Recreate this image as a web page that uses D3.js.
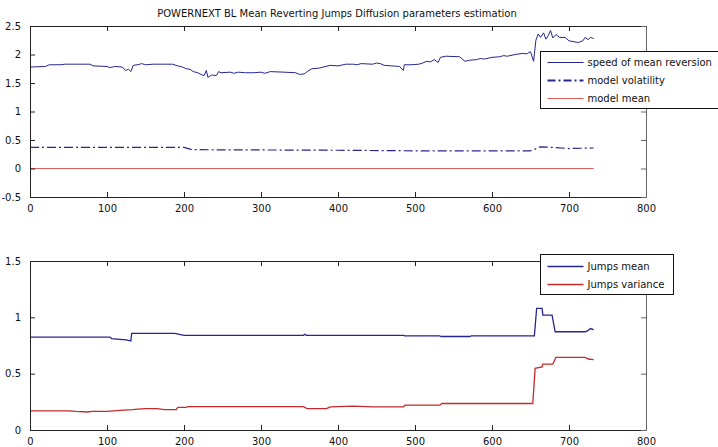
<!DOCTYPE html>
<html><head><meta charset="utf-8">
<script src="https://cdn.jsdelivr.net/npm/d3@7"></script>
<style>
body{margin:0;background:#fff;}
svg{display:block;font-family:"DejaVu Sans",sans-serif;}
</style></head>
<body><svg id="c" width="718" height="447"></svg>
<script>
const title = "POWERNEXT BL Mean Reverting Jumps Diffusion parameters estimation";
const xTicks = [0,100,200,300,400,500,600,700,800];
const yTicksTop = [-0.5,0,0.5,1,1.5,2,2.5];
const yTicksBottom = [0,0.5,1,1.5];
const yTickLabelsTop = ["-0.5","0","0.5","1","1.5","2","2.5"];
const yTickLabelsBottom = ["0","0.5","1","1.5"];

const speedDays = [0,20,25,40,45,78,82,100,104,110,120,124,128,131,134,140,145,150,160,185,192,198,203,208,212,218,222,226,229,231,236,242,245,248,260,265,270,280,290,300,305,312,330,345,350,356,360,366,375,390,400,410,420,425,430,445,450,455,460,470,480,485,486,495,505,510,515,520,525,530,533,540,558,565,571,580,585,590,600,610,615,620,630,640,645,650,654,657,660,663,667,670,673,676,679,683,688,695,700,712,718,721,725,728,732];
const speedVals = [1.78,1.79,1.82,1.82,1.83,1.83,1.80,1.79,1.77,1.79,1.78,1.72,1.74,1.70,1.81,1.82,1.84,1.82,1.83,1.83,1.80,1.78,1.75,1.74,1.70,1.68,1.65,1.63,1.72,1.60,1.64,1.63,1.70,1.68,1.69,1.67,1.69,1.68,1.68,1.69,1.67,1.70,1.69,1.68,1.65,1.66,1.70,1.75,1.76,1.81,1.80,1.83,1.83,1.82,1.84,1.83,1.85,1.84,1.81,1.80,1.79,1.72,1.82,1.82,1.83,1.85,1.88,1.87,1.91,1.86,1.95,1.97,1.96,1.88,1.90,1.91,1.93,1.92,1.95,1.96,1.98,1.97,2.00,2.02,2.01,2.05,1.88,2.25,2.36,2.30,2.38,2.27,2.33,2.42,2.29,2.35,2.30,2.30,2.24,2.21,2.24,2.30,2.26,2.30,2.28];

const volDays = [0,200,210,400,500,650,656,662,680,700,732];
const volVals = [0.37,0.37,0.33,0.32,0.31,0.31,0.34,0.38,0.37,0.35,0.36];

const meanDays = [0,732];
const meanVals = [0,0];

const jmDays = [0,104,106,125,131,132,188,200,355,357,359,485,487,532,534,571,573,655,658,665,666,678,682,721,724,728,732];
const jmVals = [0.825,0.825,0.81,0.80,0.79,0.858,0.858,0.84,0.84,0.85,0.84,0.84,0.835,0.835,0.83,0.83,0.835,0.835,1.08,1.08,1.02,1.02,0.872,0.872,0.88,0.90,0.89];

const jvDays = [0,50,60,75,80,100,117,133,140,150,165,175,190,192,203,205,355,360,385,390,420,445,485,487,532,535,653,656,665,666,679,683,721,725,732];
const jvVals = [0.17,0.17,0.165,0.16,0.165,0.165,0.175,0.18,0.185,0.19,0.19,0.18,0.18,0.2,0.2,0.208,0.208,0.19,0.19,0.205,0.212,0.205,0.205,0.22,0.22,0.235,0.235,0.547,0.56,0.585,0.585,0.645,0.645,0.63,0.625];

const legendTop = ["speed of mean reversion","model volatility","model mean"];
const legendBottom = ["Jumps mean","Jumps variance"];

const BLUE = "#26268e", RED_TOP = "#e06060", RED_BOT = "#c42a2a";
const svg = d3.select("#c");

svg.append("text").attr("x",337).attr("y",17).attr("text-anchor","middle")
  .attr("font-size",10).attr("fill","#111").text(title);

function panel(top, bottom, yDomain, yTicks, yLabels, series, legend, legBox){
  const x = d3.scaleLinear().domain([0,800]).range([30,646]);
  const y = d3.scaleLinear().domain(yDomain).range([bottom, top]);
  const g = svg.append("g");
  const clipId = "clip"+top;
  svg.append("clipPath").attr("id",clipId).append("rect")
    .attr("x",30).attr("y",top).attr("width",616).attr("height",bottom-top);
  const lines = g.append("g").attr("clip-path",`url(#${clipId})`);
  series.forEach(s=>{
    const pts = s.days.map((d,i)=>[d,s.vals[i]]);
    lines.append("path").attr("d", d3.line().x(p=>x(p[0])).y(p=>y(p[1]))(pts))
      .attr("fill","none").attr("stroke",s.color).attr("stroke-width",s.w)
      .attr("stroke-dasharray",s.dash||null);
  });
  const ax = g.append("g").attr("font-size",10).attr("fill","#111");
  const xb = ax.append("g").attr("transform",`translate(0,${bottom})`)
    .call(d3.axisBottom(x).tickValues(xTicks).tickSizeInner(-5).tickSizeOuter(0).tickPadding(8).tickFormat(d3.format("d")));
  const xt = ax.append("g").attr("transform",`translate(0,${top})`)
    .call(d3.axisTop(x).tickValues(xTicks).tickSizeInner(-5).tickSizeOuter(0).tickFormat(""));
  const yl = ax.append("g").attr("transform",`translate(30,0)`)
    .call(d3.axisLeft(y).tickValues(yTicks).tickSizeInner(-5).tickSizeOuter(0).tickPadding(9).tickFormat((d,i)=>yLabels[i]));
  const yr = ax.append("g").attr("transform",`translate(646,0)`)
    .call(d3.axisRight(y).tickValues(yTicks).tickSizeInner(-5).tickSizeOuter(0).tickFormat(""));
  [xb,xt,yl,yr].forEach(a=>{
    a.selectAll("path").attr("stroke","#222");
    a.selectAll("line").attr("stroke","#222");
    a.selectAll("text").attr("fill","#111").attr("font-family","DejaVu Sans");
    a.attr("font-size",10);
  });
  yr.selectAll("path,line").attr("stroke","#666");
  const lg = svg.append("g");
  lg.append("rect").attr("x",legBox.x).attr("y",legBox.y).attr("width",legBox.w).attr("height",legBox.h)
    .attr("fill","#fff").attr("stroke","#111").attr("stroke-width",1);
  legend.forEach((t,i)=>{
    const s = series[i];
    const yy = legBox.y + legBox.first + i*legBox.step;
    lg.append("line").attr("x1",legBox.x+7).attr("x2",legBox.x+43).attr("y1",yy).attr("y2",yy)
      .attr("stroke",s.color).attr("stroke-width",s.lw||s.w).attr("stroke-dasharray",s.ldash||s.dash||null);
    lg.append("text").attr("x",legBox.x+47).attr("y",yy+3.5).attr("font-size",10).attr("fill","#111").text(t);
  });
}

panel(26,197,[-0.5,2.5],yTicksTop,yTickLabelsTop,[
  {days:speedDays,vals:speedVals,color:BLUE,w:1},
  {days:volDays,vals:volVals,color:BLUE,w:1.2,dash:"9,3,2,3",lw:2,ldash:"8,3,2,3"},
  {days:meanDays,vals:meanVals,color:RED_TOP,w:1}
],legendTop,{x:540.5,y:51.5,w:182,h:57,first:11,step:18});

panel(261,430,[0,1.5],yTicksBottom,yTickLabelsBottom,[
  {days:jmDays,vals:jmVals,color:BLUE,w:1.3},
  {days:jvDays,vals:jvVals,color:RED_BOT,w:1.3}
],legendBottom,{x:540.5,y:254.5,w:133,h:40,first:12,step:18});
</script></body></html>
